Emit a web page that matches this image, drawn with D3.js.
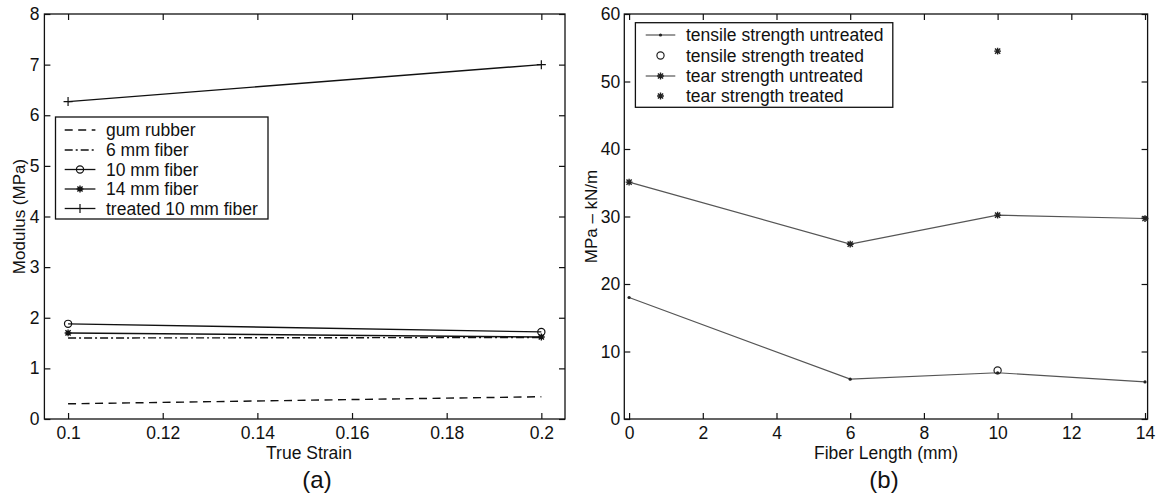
<!DOCTYPE html>
<html><head><meta charset="utf-8">
<script src="https://cdn.jsdelivr.net/npm/d3@7"></script>
<style>
body{margin:0;background:#fff}
svg{display:block}
text{font-family:"Liberation Sans",Arial,Helvetica,sans-serif;fill:#111}
</style>
</head><body>
<svg id="c" width="1159" height="494"></svg>
<script>
// ---------- data: panel (a) ----------
const strainX = [0.1, 0.2];
const gumRubber = [0.30, 0.44];
const fiber6mm = [1.60, 1.61];
const fiber10mm = [1.88, 1.72];
const fiber14mm = [1.70, 1.62];
const treated10mm = [6.27, 7.00];
const strainTicks = [0.1, 0.12, 0.14, 0.16, 0.18, 0.2];
const strainTickLabels = ["0.1", "0.12", "0.14", "0.16", "0.18", "0.2"];
const modulusTicks = [0, 1, 2, 3, 4, 5, 6, 7, 8];

// ---------- data: panel (b) ----------
const fiberLength = [0, 6, 10, 14];
const tensileUntreated = [18.0, 5.9, 6.85, 5.5];
const treatedLength = [10];
const tensileTreated = [7.2];
const tearUntreated = [35.1, 25.9, 30.2, 29.7];
const tearTreated = [54.5];
const lengthTicks = [0, 2, 4, 6, 8, 10, 12, 14];
const strengthTicks = [0, 10, 20, 30, 40, 50, 60];

const svg = d3.select("#c");
const FS = 17.5;

function marker(g, type, x, y, color) {
  color = color || "#111";
  if (type === "o") {
    g.append("circle").attr("cx", x).attr("cy", y).attr("r", 3.6)
      .attr("fill", "none").attr("stroke", color).attr("stroke-width", 1.2);
  } else if (type === "+") {
    const s = 4.5;
    g.append("path").attr("d", `M${x - s},${y}H${x + s}M${x},${y - s}V${y + s}`)
      .attr("stroke", color).attr("stroke-width", 1.2);
  } else if (type === "*") {
    const s = 3.4, d = 2.6;
    g.append("path").attr("d",
      `M${x - s},${y}H${x + s}M${x},${y - s}V${y + s}M${x - d},${y - d}L${x + d},${y + d}M${x - d},${y + d}L${x + d},${y - d}`)
      .attr("stroke", color).attr("stroke-width", 1.4);
  } else if (type === ".") {
    g.append("circle").attr("cx", x).attr("cy", y).attr("r", 1.6).attr("fill", color);
  }
}

function frame(g, xs, ys, xTicks, yTicks, xFmt, yFmt, padY) {
  const [x0, x1] = xs.range();
  const [y1, y0] = ys.range();
  const ax = d3.axisBottom(xs).tickValues(xTicks).tickSizeInner(-6).tickSizeOuter(0).tickPadding(8).tickFormat(xFmt);
  const ay = d3.axisLeft(ys).tickValues(yTicks).tickSizeInner(-6).tickSizeOuter(0).tickPadding(padY).tickFormat(yFmt);
  const at = d3.axisTop(xs).tickValues(xTicks).tickSizeInner(-6).tickSizeOuter(0).tickFormat("");
  const ar = d3.axisRight(ys).tickValues(yTicks).tickSizeInner(-6).tickSizeOuter(0).tickFormat("");
  const style = s => {
    s.select(".domain").remove();
    s.selectAll("line").attr("stroke", "#111").attr("stroke-width", 1.2);
    s.selectAll("text").attr("font-size", FS).attr("fill", "#111")
      .attr("font-family", '"Liberation Sans",Arial,sans-serif');
  };
  g.append("g").attr("transform", `translate(0,${y1})`).call(ax).call(style);
  g.append("g").attr("transform", `translate(${x0},0)`).call(ay).call(style);
  g.append("g").attr("transform", `translate(0,${y0})`).call(at).call(style);
  g.append("g").attr("transform", `translate(${x1},0)`).call(ar).call(style);
  g.append("rect").attr("x", x0).attr("y", y0).attr("width", x1 - x0).attr("height", y1 - y0)
    .attr("fill", "none").attr("stroke", "#111").attr("stroke-width", 1.3);
}

// ================= panel (a) =================
{
  const g = svg.append("g");
  const x = d3.scaleLinear().domain([0.095, 0.205]).range([44.4, 565]);
  const y = d3.scaleLinear().domain([0, 8]).range([419, 14]);
  const series = [
    {name: "gum rubber", v: gumRubber, dash: "8,5.5", m: null},
    {name: "6 mm fiber", v: fiber6mm, dash: "8,3,2,3", m: null},
    {name: "10 mm fiber", v: fiber10mm, dash: null, m: "o"},
    {name: "14 mm fiber", v: fiber14mm, dash: null, m: "*"},
    {name: "treated 10 mm fiber", v: treated10mm, dash: null, m: "+"}
  ];
  frame(g, x, y, strainTicks, modulusTicks, (d, i) => strainTickLabels[i], d => String(d), 5);
  const line = d3.line().x((d, i) => x(strainX[i])).y(d => y(d));
  series.forEach(s => {
    g.append("path").attr("d", line(s.v)).attr("fill", "none")
      .attr("stroke", "#111").attr("stroke-width", 1.4)
      .attr("stroke-dasharray", s.dash);
    if (s.m) s.v.forEach((d, i) => marker(g, s.m, x(strainX[i]), y(d)));
  });
  // legend
  const lg = g.append("g");
  lg.append("rect").attr("x", 55.5).attr("y", 117).attr("width", 212.5).attr("height", 102)
    .attr("fill", "#fff").attr("stroke", "#111").attr("stroke-width", 1.3);
  const rows = [130, 150, 169.5, 189, 208.5];
  series.forEach((s, i) => {
    const yy = rows[i];
    lg.append("line").attr("x1", 64.7).attr("x2", 95.4).attr("y1", yy).attr("y2", yy)
      .attr("stroke", "#111").attr("stroke-width", 1.3).attr("stroke-dasharray", s.dash);
    if (s.m) marker(lg, s.m, 80, yy);
    lg.append("text").attr("x", 106).attr("y", yy + 6).attr("font-size", FS).text(s.name);
  });
  g.append("text").attr("x", 309).attr("y", 459).attr("text-anchor", "middle")
    .attr("font-size", FS).text("True Strain");
  g.append("text").attr("transform", "translate(25,216.5) rotate(-90)").attr("text-anchor", "middle")
    .attr("font-size", 17).text("Modulus (MPa)");
  g.append("text").attr("x", 317).attr("y", 488).attr("text-anchor", "middle")
    .attr("font-size", 24).attr("font-family", '"Liberation Serif","Times New Roman",serif').text("(a)");
}

// ================= panel (b) =================
{
  const g = svg.append("g");
  const x = d3.scaleLinear().domain([-0.13, 14.07]).range([624.3, 1147.6]);
  const y = d3.scaleLinear().domain([0, 60]).range([419, 14]);
  frame(g, x, y, lengthTicks, strengthTicks, d => String(d), d => String(d), 4);
  const lineCol = "#555";
  const series = [
    {name: "tensile strength untreated", xv: fiberLength, v: tensileUntreated, line: true, m: "."},
    {name: "tensile strength treated", xv: treatedLength, v: tensileTreated, line: false, m: "o"},
    {name: "tear strength untreated", xv: fiberLength, v: tearUntreated, line: true, m: "*"},
    {name: "tear strength treated", xv: treatedLength, v: tearTreated, line: false, m: "*"}
  ];
  series.forEach(s => {
    if (s.line) {
      const line = d3.line().x((d, i) => x(s.xv[i])).y(d => y(d));
      g.append("path").attr("d", line(s.v)).attr("fill", "none")
        .attr("stroke", lineCol).attr("stroke-width", 1.2);
    }
    s.v.forEach((d, i) => marker(g, s.m, x(s.xv[i]), y(d), "#222"));
  });
  const lg = g.append("g");
  lg.append("rect").attr("x", 635.4).attr("y", 22.7).attr("width", 257.4).attr("height", 84.6)
    .attr("fill", "#fff").attr("stroke", "#111").attr("stroke-width", 1.3);
  const rows = [35, 55.5, 76, 96];
  series.forEach((s, i) => {
    const yy = rows[i];
    if (s.line) lg.append("line").attr("x1", 645.7).attr("x2", 675.3).attr("y1", yy).attr("y2", yy)
      .attr("stroke", lineCol).attr("stroke-width", 1.2);
    marker(lg, s.m, 660.5, yy, "#222");
    lg.append("text").attr("x", 686).attr("y", yy + 6).attr("font-size", FS).text(s.name);
  });
  g.append("text").attr("x", 886).attr("y", 459).attr("text-anchor", "middle")
    .attr("font-size", FS).text("Fiber Length (mm)");
  g.append("text").attr("transform", "translate(597,216.5) rotate(-90)").attr("text-anchor", "middle")
    .attr("font-size", 17).text("MPa – kN/m");
  g.append("text").attr("x", 884).attr("y", 488).attr("text-anchor", "middle")
    .attr("font-size", 24).attr("font-family", '"Liberation Serif","Times New Roman",serif').text("(b)");
}
</script>
</body></html>
